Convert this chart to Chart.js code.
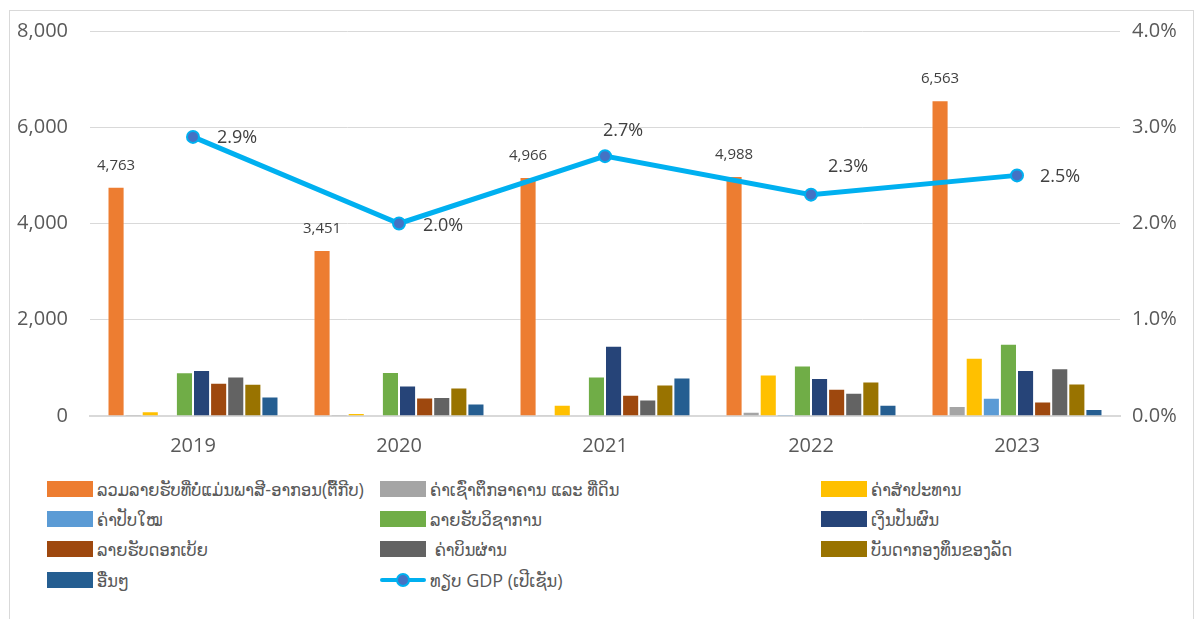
<!DOCTYPE html>
<html lang="lo">
<head>
<meta charset="UTF-8">
<title>Non-tax revenue</title>
<script src="https://cdn.jsdelivr.net/npm/chart.js"></script>
<style>
  body { margin: 0; background: #fff; font-family: "Open Sans", "DejaVu Sans", sans-serif; }
  #frame { position: absolute; left: 9px; top: 10px; width: 1183px; height: 640px; border: 1px solid #d9d9d9; }
  #wrap { position: absolute; left: 0; top: -3px; width: 1202px; height: 473px; }
  #legend { position: absolute; left: 0; top: 474px; width: 1202px; }
  .item { position: absolute; height: 30px; display: flex; align-items: center; font-size: 18px; color: #595959; white-space: pre;
          font-family: "Open Sans", "DejaVu Sans Condensed", "DejaVu Sans", sans-serif; }
  .sw { width: 46px; height: 16px; margin-right: 4px; }
  .ln { width: 46px; height: 16px; margin-right: 4px; position: relative; }
  .ln:before { content: ""; position: absolute; left: 0; right: 0; top: 6px; height: 4px; background: #00B0F0; border-radius: 2px; }
  .ln:after { content: ""; position: absolute; left: 16px; top: 1px; width: 10px; height: 10px; border-radius: 50%; background: #4472C4; border: 2px solid #00B0F0; }
</style>
</head>
<body>
<div id="frame"></div>
<div id="wrap"><canvas id="chart"></canvas></div>
<div id="legend"></div>
<script>
const years = ['2019', '2020', '2021', '2022', '2023'];

const totalNonTax = [4763, 3451, 4966, 4988, 6563];
const rentBuildingsLand = [35, 35, 20, 90, 207];
const concessionFees = [97, 62, 234, 861, 1212];
const fines = [15, 14, 10, 35, 379];
const technicalRevenue = [910, 916, 820, 1047, 1501];
const dividends = [957, 634, 1460, 792, 957];
const interestIncome = [689, 386, 441, 565, 303];
const overflightFees = [820, 393, 344, 482, 992];
const stateFunds = [668, 592, 654, 716, 675];
const others = [407, 262, 799, 234, 145];
const gdpShare = [2.9, 2.0, 2.7, 2.3, 2.5];

const leftTicks = [0, 2000, 4000, 6000, 8000];
const rightTicks = [0, 1, 2, 3, 4];

const barSeries = [
  ['ລວມລາຍຮັບທີ່ບໍ່ແມ່ນພາສີ-ອາກອນ(ຕື້ກີບ)', totalNonTax, '#ED7D31'],
  ['ຄ່າເຊົ່າຕຶກອາຄານ ແລະ ທີ່ດິນ', rentBuildingsLand, '#A5A5A5'],
  ['ຄ່າສຳປະທານ', concessionFees, '#FFC000'],
  ['ຄ່າປັບໃໝ', fines, '#5B9BD5'],
  ['ລາຍຮັບວິຊາການ', technicalRevenue, '#70AD47'],
  ['ເງິນປັນຜົນ', dividends, '#264478'],
  ['ລາຍຮັບດອກເບ້ຍ', interestIncome, '#9E480E'],
  [' ຄ່າບິນຜ່ານ', overflightFees, '#636363'],
  ['ບັນດາກອງທຶນຂອງລັດ', stateFunds, '#997300'],
  ['ອື່ນໆ', others, '#255E91']
];
const gdpLabel = 'ທຽບ GDP (ເປີເຊັນ)';

const datasets = barSeries.map(([label, data, color]) => ({
  type: 'bar',
  label: label,
  data: data,
  backgroundColor: color,
  borderColor: 'rgba(255,255,255,0.35)',
  borderWidth: 1,
  yAxisID: 'y',
  order: 2
}));
datasets.push({
  type: 'line',
  label: gdpLabel,
  data: gdpShare,
  borderColor: '#00B0F0',
  borderWidth: 5,
  pointRadius: 6,
  pointHoverRadius: 6,
  pointBackgroundColor: '#4472C4',
  pointBorderColor: '#00B0F0',
  pointBorderWidth: 2,
  yAxisID: 'y1',
  order: 1
});

// offsets for the percentage labels (relative to the point)
const pctOffsets = [[44, 1], [44, 2], [18, -25], [37, -28], [43, 1]];

const labelPlugin = {
  id: 'valueLabels',
  afterDatasetsDraw(chart) {
    const ctx = chart.ctx;
    ctx.save();
    ctx.fillStyle = '#404040';
    ctx.textAlign = 'center';
    ctx.textBaseline = 'middle';
    // totals above the orange bars
    ctx.font = '15px "Open Sans", sans-serif';
    chart.getDatasetMeta(0).data.forEach((bar, i) => {
      ctx.fillText(totalNonTax[i].toLocaleString('en-US'), bar.x, bar.y - 21);
    });
    // percentages next to the line points
    ctx.font = '18px "Open Sans", sans-serif';
    chart.getDatasetMeta(datasets.length - 1).data.forEach((pt, i) => {
      const [dx, dy] = pctOffsets[i];
      ctx.fillText(gdpShare[i].toFixed(1) + '%', pt.x + dx, pt.y + dy);
    });
    ctx.restore();
  }
};

const tickFont = { family: '"Open Sans", sans-serif', size: 20 };

new Chart(document.getElementById('chart'), {
  data: { labels: years, datasets: datasets },
  options: {
    responsive: true,
    maintainAspectRatio: false,
    animation: false,
    layout: { padding: { top: 15, left: 0, right: 0, bottom: 0 } },
    plugins: { legend: { display: false }, tooltip: { enabled: false } },
    datasets: { bar: { categoryPercentage: 0.83, barPercentage: 1 } },
    scales: {
      x: {
        grid: { display: false, drawTicks: false },
        border: { color: '#d9d9d9', width: 2 },
        ticks: { color: '#595959', font: tickFont, padding: 18 },
        afterFit(s) { s.height = 54; }
      },
      y: {
        position: 'left',
        min: 0, max: 8000,
        afterBuildTicks(s) { s.ticks = leftTicks.map(v => ({ value: v })); },
        grid: { color: '#d9d9d9', drawTicks: false },
        border: { display: false },
        ticks: {
          color: '#595959', font: tickFont, padding: 22,
          callback: v => v.toLocaleString('en-US')
        },
        afterFit(s) { s.width = 90; }
      },
      y1: {
        position: 'right',
        min: 0, max: 4,
        afterBuildTicks(s) { s.ticks = rightTicks.map(v => ({ value: v })); },
        grid: { display: false, drawTicks: false },
        border: { display: false },
        ticks: {
          color: '#595959', font: tickFont, padding: 12,
          callback: v => v.toFixed(1) + '%'
        },
        afterFit(s) { s.width = 82; }
      }
    }
  },
  plugins: [labelPlugin]
});

// legend in three columns, like the original
const legend = document.getElementById('legend');
const colX = [47, 380, 821];
const rowY = [0, 30, 60, 91];
const items = barSeries.map(([label, , color]) => ({ label, color }));
items.push({ label: gdpLabel, line: true });
items.forEach((it, i) => {
  const div = document.createElement('div');
  div.className = 'item';
  div.style.left = colX[i % 3] + 'px';
  div.style.top = rowY[Math.floor(i / 3)] + 'px';
  const sw = document.createElement('span');
  if (it.line) {
    sw.className = 'ln';
  } else {
    sw.className = 'sw';
    sw.style.background = it.color;
  }
  div.appendChild(sw);
  div.appendChild(document.createTextNode(it.label));
  legend.appendChild(div);
});
</script>
</body>
</html>
